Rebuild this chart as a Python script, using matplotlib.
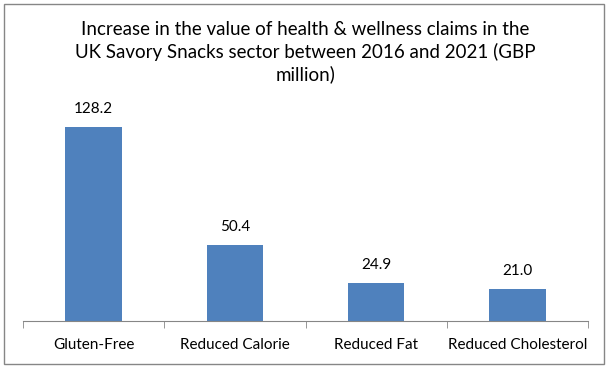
import numpy as np
import matplotlib.pyplot as plt
from matplotlib.patches import Rectangle

# data
categories = ["Gluten-Free", "Reduced Calorie", "Reduced Fat", "Reduced Cholesterol"]
values = [128.2, 50.4, 24.9, 21.0]
title = ("Increase in the value of health & wellness claims in the\n"
         "UK Savory Snacks sector between 2016 and 2021 (GBP\n"
         "million)")

plt.rcParams['font.family'] = ['Lato', 'DejaVu Sans']

fig = plt.figure(figsize=(6.08, 3.68), dpi=100)
fig.patches.append(Rectangle((4/608, 4/368), 600/608, 360/368, transform=fig.transFigure,
                             fill=False, edgecolor="#868686", linewidth=1))

ax = fig.add_axes([23/608, 47/368, 565/608, 211.8/368])
x = np.arange(len(categories))
bars = ax.bar(x, values, width=0.4, color="#4F81BD")
for xi, v in zip(x, values):
    ax.annotate("{:.1f}".format(v), (xi, v), xytext=(0, 8), textcoords="offset points",
                ha="center", va="bottom", fontsize=11, color="#000000")

ax.set_xlim(-0.5, len(categories) - 0.5)
ax.set_ylim(0, 140)
ax.set_yticks([])
ax.set_xticks(x)
ax.set_xticklabels(categories, fontsize=11)
ax.set_xticks(np.arange(len(categories) + 1) - 0.5, minor=True)
ax.tick_params(axis="x", which="major", length=0, pad=12)
ax.tick_params(axis="x", which="minor", length=5, color="#868686", direction="out")
for s in ["top", "right", "left"]:
    ax.spines[s].set_visible(False)
ax.spines["bottom"].set_color("#868686")

fig.text(0.502, 1 - 52/368, title, ha="center", va="center", fontsize=13.5,
         linespacing=1.3)

fig.savefig("out.png", dpi=100)
